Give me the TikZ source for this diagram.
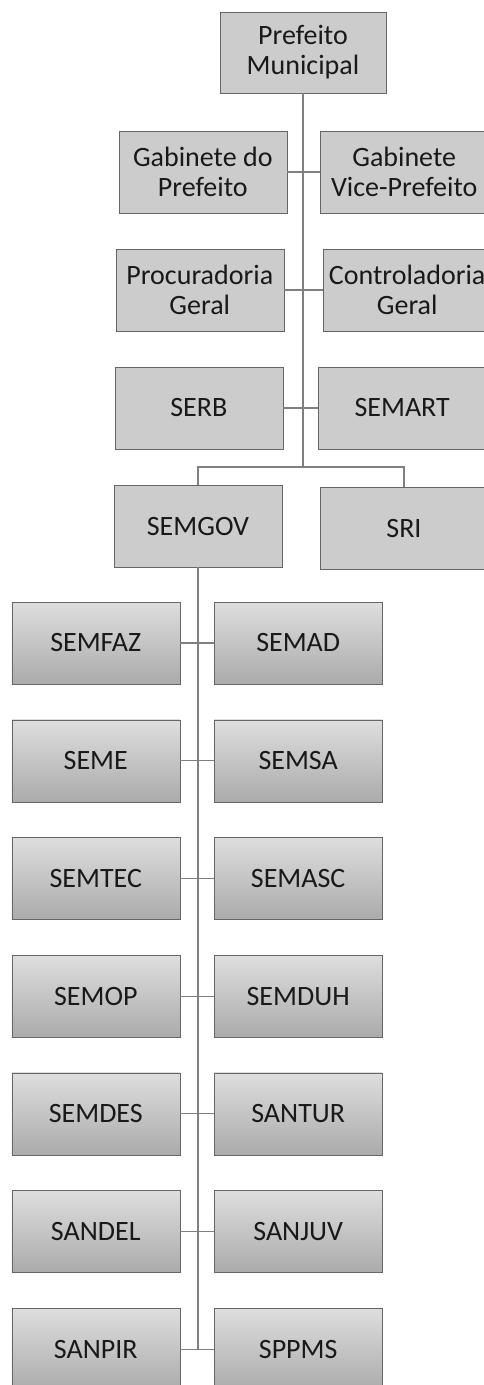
\documentclass[tikz,border=0pt]{standalone}
\usepackage{fontspec}
\setmainfont{Carlito}
\usetikzlibrary{positioning}

\begin{document}
\begin{tikzpicture}[
  x=1pt, y=1pt,
  font=\fontsize{28}{30}\selectfont,
  unit/.style={draw=black!60, fill=black!20, text=black!90,
               minimum width=168pt, minimum height=82pt, align=center, inner sep=1pt},
  subunit/.style={unit, top color=black!13, bottom color=black!33},
  link/.style={draw=black!50, line width=1.2pt}
]
\useasboundingbox (0,0) rectangle (484,-1385);
% --- upper spine ---
\coordinate (t1) at (303,-172);
\coordinate (t2) at (303,-290);
\coordinate (t3) at (303,-408);
\coordinate (tb) at (303,-467);
\node[unit, minimum width=166pt, minimum height=81pt] (pm) at (303,-52.5) {Prefeito\\Municipal};
\node[unit, left=16pt of t1] (gp) {Gabinete do\\Prefeito};
\node[unit, right=17pt of t1] (gv) {Gabinete\\Vice-Prefeito};
\node[unit, left=19pt of t2] (pg) {Procuradoria\\Geral};
\node[unit, right=20pt of t2] (cg) {Controladoria\\Geral};
\node[unit, left=20pt of t3] (serb) {SERB};
\node[unit, right=15pt of t3] (semart) {SEMART};
\node[unit, anchor=north] (semgov) at (198,-485) {SEMGOV};
\node[unit, anchor=north] (sri) at (404,-487) {SRI};
% --- lower spine ---
\coordinate (j1) at (198,-643);
\coordinate[below=117.7pt of j1] (j2);
\coordinate[below=117.7pt of j2] (j3);
\coordinate[below=117.7pt of j3] (j4);
\coordinate[below=117.7pt of j4] (j5);
\coordinate[below=117.7pt of j5] (j6);
\coordinate[below=117.7pt of j6] (j7);
\node[subunit, left=18pt of j1] (semfaz) {SEMFAZ};
\node[subunit, right=16pt of j1] (semad) {SEMAD};
\node[subunit, left=18pt of j2] (seme) {SEME};
\node[subunit, right=16pt of j2] (semsa) {SEMSA};
\node[subunit, left=18pt of j3] (semtec) {SEMTEC};
\node[subunit, right=16pt of j3] (semasc) {SEMASC};
\node[subunit, left=18pt of j4] (semop) {SEMOP};
\node[subunit, right=16pt of j4] (semduh) {SEMDUH};
\node[subunit, left=18pt of j5] (semdes) {SEMDES};
\node[subunit, right=16pt of j5] (santur) {SANTUR};
\node[subunit, left=18pt of j6] (sandel) {SANDEL};
\node[subunit, right=16pt of j6] (sanjuv) {SANJUV};
\node[subunit, left=18pt of j7] (sanpir) {SANPIR};
\node[subunit, right=16pt of j7] (sppms) {SPPMS};
% --- connectors ---
\draw[link] (pm) -- (tb);
\draw[link] (gp) -- (gv);
\draw[link] (pg) -- (cg);
\draw[link] (serb) -- (semart);
\draw[link] (semgov.north) |- (tb) -| (sri.north);
\draw[link] (semgov) -- (j7);
\draw[link] (semfaz) -- (semad);
\draw[link] (seme) -- (semsa);
\draw[link] (semtec) -- (semasc);
\draw[link] (semop) -- (semduh);
\draw[link] (semdes) -- (santur);
\draw[link] (sandel) -- (sanjuv);
\draw[link] (sanpir) -- (sppms);
\end{tikzpicture}
\end{document}
